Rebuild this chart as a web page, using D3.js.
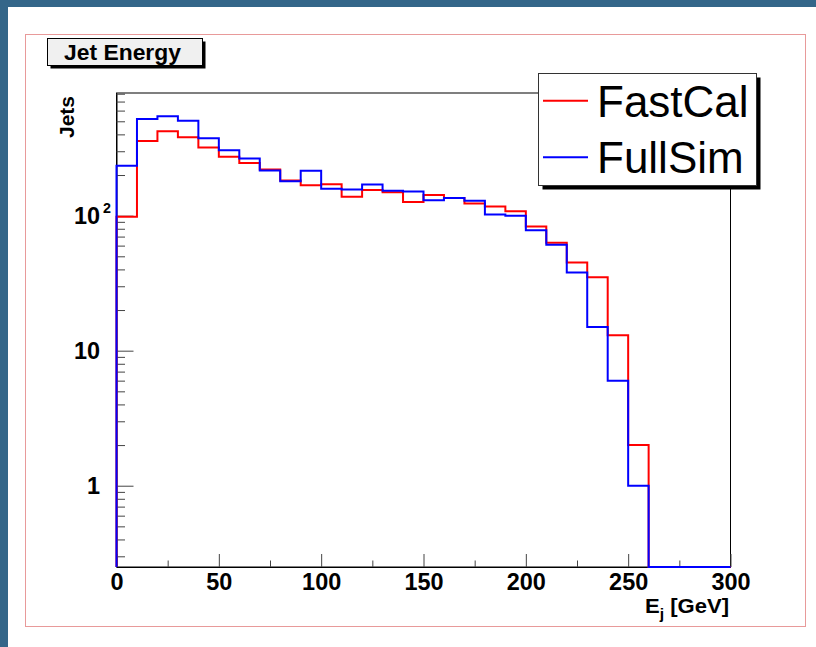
<!DOCTYPE html>
<html><head><meta charset="utf-8">
<script src="https://cdn.jsdelivr.net/npm/d3@7"></script>
<style>body{margin:0;padding:0;overflow:hidden;background:#fff}</style>
</head><body>
<script>
// ---- data ----
const binEdges = d3.range(0, 301, 10); // 30 bins, 10 GeV each
const fastCal = [98, 358, 421, 381, 320, 273, 245, 220, 182, 168, 171, 138, 155, 149, 126, 142, 135, 123, 117, 108, 83, 63, 45, 35, 13, 2, 0, 0, 0, 0];
const fullSim = [234, 521, 546, 504, 375, 305, 265, 216, 180, 215, 158, 156, 170, 153, 151, 130, 135, 129, 102, 100, 78, 61, 38, 15, 6, 1, 0, 0, 0, 0];
const seriesNames = ["FastCal", "FullSim"];
const seriesColors = ["#ff0000", "#0000ff"];
const xMajorTicks = [0, 50, 100, 150, 200, 250, 300];
const xMinorTicks = [25, 75, 125, 175, 225, 275];
const yMajorTicks = [1, 10, 100];
const yMinorTicks = [0.3,0.4,0.5,0.6,0.7,0.8,0.9,2,3,4,5,6,7,8,9,20,30,40,50,60,70,80,90,200,300,400,500,600,700,800];
const titleText = "Jet Energy";
const yTitle = "Jets";

const W = 816, H = 647;
const L = 116.5, R = 730.5, T = 93, B = 567;
const svg = d3.select("body").append("svg").attr("width", W).attr("height", H);

svg.append("rect").attr("width", W).attr("height", H).attr("fill", "#346689");
svg.append("rect").attr("x", 8).attr("y", 7).attr("width", W - 8).attr("height", H - 7).attr("fill", "#fff");
svg.append("rect").attr("x", 25.5).attr("y", 34.5).attr("width", 780).attr("height", 592)
  .attr("fill", "none").attr("stroke", "#e89a9a");

const x = d3.scaleLinear().domain([0, 300]).range([L, R]);
const y = d3.scaleLog().domain([0.25, 810]).range([B, T]);

// frame
svg.append("rect").attr("x", L).attr("y", T).attr("width", R - L).attr("height", B - T)
  .attr("fill", "none").attr("stroke", "#000").attr("stroke-width", 1);

const FONT = "'Liberation Sans', Arial, Helvetica, sans-serif";
const SX = 1.02;
const TF = 23;

// x axis
const gx = svg.append("g").attr("transform", `translate(0,${B})`)
  .call(d3.axisBottom(x).tickValues(xMajorTicks).tickSize(-13).tickSizeOuter(0));
gx.select(".domain").attr("stroke", "#000");
gx.selectAll(".tick line").attr("stroke", "#444");
gx.selectAll(".tick text").attr("y", 23).attr("dy", 0)
  .attr("font-family", FONT).attr("font-weight", "bold").attr("font-size", TF)
  .attr("fill", "#000").attr("transform", `scale(${SX},1)`);
const gxm = svg.append("g").attr("transform", `translate(0,${B})`)
  .call(d3.axisBottom(x).tickValues(xMinorTicks).tickSize(-6.5).tickFormat(""));
gxm.select(".domain").remove();
gxm.selectAll(".tick line").attr("stroke", "#444");

// y axis
const gy = svg.append("g").attr("transform", `translate(${L},0)`)
  .call(d3.axisLeft(y).tickValues(yMajorTicks).tickSize(-17).tickSizeOuter(0).tickFormat(d => d === 100 ? "10" : String(d)));
gy.select(".domain").attr("stroke", "#000");
gy.selectAll(".tick line").attr("stroke", "#444");
gy.selectAll(".tick text").attr("x", -16.5 / SX).attr("dy", 0).attr("y", 8)
  .attr("font-family", FONT).attr("font-weight", "bold").attr("font-size", TF)
  .attr("fill", "#000").attr("transform", `scale(${SX},1)`)
  .each(function (d) {
    if (d === 100) {
      d3.select(this).append("tspan").attr("x", -13.5 / SX).attr("y", -3)
        .attr("text-anchor", "start").attr("font-size", 14).text("2");
    }
  });
const gym = svg.append("g").attr("transform", `translate(${L},0)`)
  .call(d3.axisLeft(y).tickValues(yMinorTicks).tickSize(-8.5).tickFormat(""));
gym.select(".domain").remove();
gym.selectAll(".tick line").attr("stroke", "#444");

// histograms
const line = d3.line()
  .x(d => x(d[0]))
  .y(d => d[1] > 0 ? y(d[1]) : B)
  .curve(d3.curveStepAfter);
function histPoints(vals) {
  const pts = [[binEdges[0], 0]];
  vals.forEach((v, i) => pts.push([binEdges[i], v]));
  pts.push([binEdges[binEdges.length - 1], vals[vals.length - 1]]);
  pts.push([binEdges[binEdges.length - 1], 0]);
  return pts;
}
[fastCal, fullSim].forEach((vals, i) => {
  svg.append("path").attr("d", line(histPoints(vals)))
    .attr("fill", "none").attr("stroke", seriesColors[i]).attr("stroke-width", 2);
});

// title box
svg.append("rect").attr("x", 50.5).attr("y", 41.5).attr("width", 155).attr("height", 27).attr("fill", "#000");
svg.append("rect").attr("x", 47.5).attr("y", 38.5).attr("width", 155).attr("height", 27)
  .attr("fill", "#f0f0f0").attr("stroke", "#000");
svg.append("text").attr("transform", `translate(64,60) scale(1.04,1)`)
  .attr("font-family", FONT).attr("font-weight", "bold").attr("font-size", 22).text(titleText);

// y title
svg.append("text").attr("transform", "translate(74,96) rotate(-90)")
  .attr("text-anchor", "end").attr("font-family", FONT).attr("font-weight", "bold")
  .attr("font-size", 21).text(yTitle);

// x title
const xt = svg.append("text").attr("transform", `translate(729,613) scale(1.05,1)`)
  .attr("text-anchor", "end").attr("font-family", FONT).attr("font-weight", "bold").attr("font-size", 21);
xt.append("tspan").text("E");
xt.append("tspan").attr("font-size", 15).attr("dy", 6).text("j");
xt.append("tspan").attr("dy", -6).text(" [GeV]");

// legend
svg.append("rect").attr("x", 542.5).attr("y", 77.5).attr("width", 218).attr("height", 112).attr("fill", "#000");
svg.append("rect").attr("x", 538.5).attr("y", 73.5).attr("width", 218).attr("height", 112)
  .attr("fill", "#fff").attr("stroke", "#333");
const legY = [100.7, 157.3];
const legBase = [116.7, 173.3];
seriesNames.forEach((n, i) => {
  svg.append("line").attr("x1", 543).attr("x2", 588).attr("y1", legY[i]).attr("y2", legY[i])
    .attr("stroke", seriesColors[i]).attr("stroke-width", 2);
  svg.append("text").attr("x", 597).attr("y", legBase[i]).attr("font-family", FONT)
    .attr("font-size", 44).attr("fill", "#000").text(n);
});
</script>
</body></html>
